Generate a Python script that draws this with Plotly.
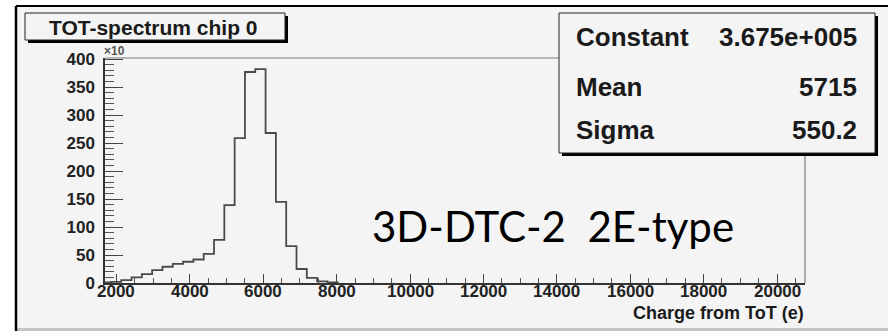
import plotly.graph_objects as go

# ---------------- data ----------------
bin_left_edges = [1567, 1848, 2129, 2410, 2691, 2972, 3253, 3534, 3815, 4096,
                  4377, 4658, 4939, 5220, 5501, 5782, 6063, 6344, 6625, 6906,
                  7187, 7468, 7749]
bin_right_end = 8030
counts_k = [1, 2, 5, 10, 16, 23, 29, 34, 38, 42,
            52, 77, 139, 259, 377, 382, 268, 145, 66, 25,
            9, 3, 1]                       # entries, x10^3

x_tick_vals = [2000, 4000, 6000, 8000, 10000, 12000, 14000, 16000, 18000, 20000]
y_tick_vals = [0, 50, 100, 150, 200, 250, 300, 350, 400]

title_text = "TOT-spectrum chip 0"
x_title = "Charge from ToT (e)"
stat_names = ["Constant", "Mean", "Sigma"]
stat_values = ["3.675e+005", "5715", "550.2"]
overlay_text = "3D-DTC-2\u00a0\u00a02E-type"

# ---------------- layout geometry (pixels) ----------------
W, H = 888, 331
L, R, T, B = 105, 805, 58, 283


def px(x):
    return (x - L) / (R - L)


def py(y):
    return (B - y) / (B - T)


BG = "#f4f4f4"
ROOTFONT = "Liberation Sans"

xs = [bin_left_edges[0]] + bin_left_edges + [bin_right_end]
ys = [0] + counts_k + [0]

fig = go.Figure()
fig.add_trace(go.Scatter(
    x=xs, y=ys, mode="lines", line_shape="hv",
    line=dict(color="#4a4a4a", width=1.8), hoverinfo="skip", showlegend=False))

shapes = []
shapes.append(dict(type="rect", xref="paper", yref="paper", layer="below",
                   x0=px(16), x1=px(892), y0=py(6), y1=py(334),
                   fillcolor=BG, line=dict(width=0)))
shapes.append(dict(type="rect", xref="paper", yref="paper", layer="below",
                   x0=px(16), x1=px(892), y0=py(328), y1=py(334),
                   fillcolor="#c4c4c4", line=dict(width=0)))
shapes.append(dict(type="line", xref="paper", yref="paper", layer="above",
                   x0=px(16), x1=px(892), y0=py(6), y1=py(6),
                   line=dict(color="#000000", width=2)))
shapes.append(dict(type="line", xref="paper", yref="paper", layer="above",
                   x0=px(16), x1=px(16), y0=py(6), y1=py(334),
                   line=dict(color="#000000", width=2.5)))
shapes.append(dict(type="line", xref="paper", yref="paper", layer="above",
                   x0=0, x1=1, y0=1, y1=1, line=dict(color="#7a7a7a", width=1.2)))
shapes.append(dict(type="line", xref="paper", yref="paper", layer="above",
                   x0=1, x1=1, y0=0, y1=1, line=dict(color="#7a7a7a", width=1.2)))


def box(x0, y0, x1, y1, sh=3):
    shapes.append(dict(type="rect", xref="paper", yref="paper", layer="above",
                       x0=px(x0 + sh), x1=px(x1 + sh), y0=py(y0 + sh), y1=py(y1 + sh),
                       fillcolor="#000000", line=dict(width=0)))
    shapes.append(dict(type="rect", xref="paper", yref="paper", layer="above",
                       x0=px(x0), x1=px(x1), y0=py(y0), y1=py(y1),
                       fillcolor=BG, line=dict(color="#222222", width=1)))


box(25, 13, 285, 40)
box(559, 13, 875, 153)

ann = []
ann.append(dict(text=title_text, x=px(153), y=py(27), xref="paper", yref="paper",
                xanchor="center", yanchor="middle", showarrow=False,
                font=dict(family=ROOTFONT, size=21, color="#1a1a1a", weight="bold")))
rows_y = [37, 87, 130]
for name, val, yy in zip(stat_names, stat_values, rows_y):
    ann.append(dict(text=name, x=px(574), y=py(yy), xref="paper", yref="paper",
                    xanchor="left", yanchor="middle", showarrow=False,
                    font=dict(family=ROOTFONT, size=26, color="#1a1a1a", weight="bold")))
    ann.append(dict(text=val, x=px(859), y=py(yy), xref="paper", yref="paper",
                    xanchor="right", yanchor="middle", showarrow=False,
                    font=dict(family=ROOTFONT, size=26, color="#1a1a1a", weight="bold")))
# x tick labels placed through the x scale (ROOT-style, tight under the axis)
for v in x_tick_vals:
    ann.append(dict(text=str(v), x=v, xref="x", y=py(291), yref="paper",
                    xanchor="center", yanchor="middle", showarrow=False,
                    font=dict(family=ROOTFONT, size=17, color="#222222", weight="bold")))
ann.append(dict(text=x_title, x=px(806), y=py(313), xref="paper", yref="paper",
                xanchor="right", yanchor="middle", showarrow=False,
                font=dict(family=ROOTFONT, size=18, color="#1a1a1a", weight="bold")))
ann.append(dict(text="\u00d710", x=px(102), y=py(51), xref="paper", yref="paper",
                xanchor="left", yanchor="middle", showarrow=False,
                font=dict(family=ROOTFONT, size=12, color="#555555", weight="bold")))
ann.append(dict(text=overlay_text, x=px(370), y=py(226), xref="paper", yref="paper",
                xanchor="left", yanchor="middle", showarrow=False,
                font=dict(family="Lato", size=42, color="#000000")))

fig.update_layout(
    width=W, height=H,
    margin=dict(l=L, r=W - R, t=T, b=H - B, autoexpand=False),
    paper_bgcolor="#ffffff", plot_bgcolor="rgba(0,0,0,0)",
    shapes=shapes, annotations=ann, showlegend=False,
    xaxis=dict(range=[1687, 20763], showgrid=False, zeroline=False,
               showline=True, linecolor="#333333", linewidth=1.5,
               ticks="inside", ticklen=9, tickwidth=1.2, tickcolor="#444444",
               tickvals=x_tick_vals, showticklabels=False,
               minor=dict(dtick=500, tick0=0, ticks="inside", ticklen=5,
                          tickwidth=1, tickcolor="#555555"),
               fixedrange=True),
    yaxis=dict(range=[0, 402], showgrid=False, zeroline=False,
               showline=True, linecolor="#333333", linewidth=1.5,
               ticks="inside", ticklen=18, tickwidth=1.2, tickcolor="#444444",
               tickvals=y_tick_vals, ticktext=[str(v) for v in y_tick_vals],
               ticklabelstandoff=5,
               tickfont=dict(family=ROOTFONT, size=17, color="#222222", weight="bold"),
               minor=dict(dtick=10, tick0=0, ticks="inside", ticklen=9,
                          tickwidth=1, tickcolor="#555555"),
               fixedrange=True),
)

fig.write_html("out.html", config={"displayModeBar": False},
               post_script="document.body.style.margin='0';document.body.style.padding='0';")
